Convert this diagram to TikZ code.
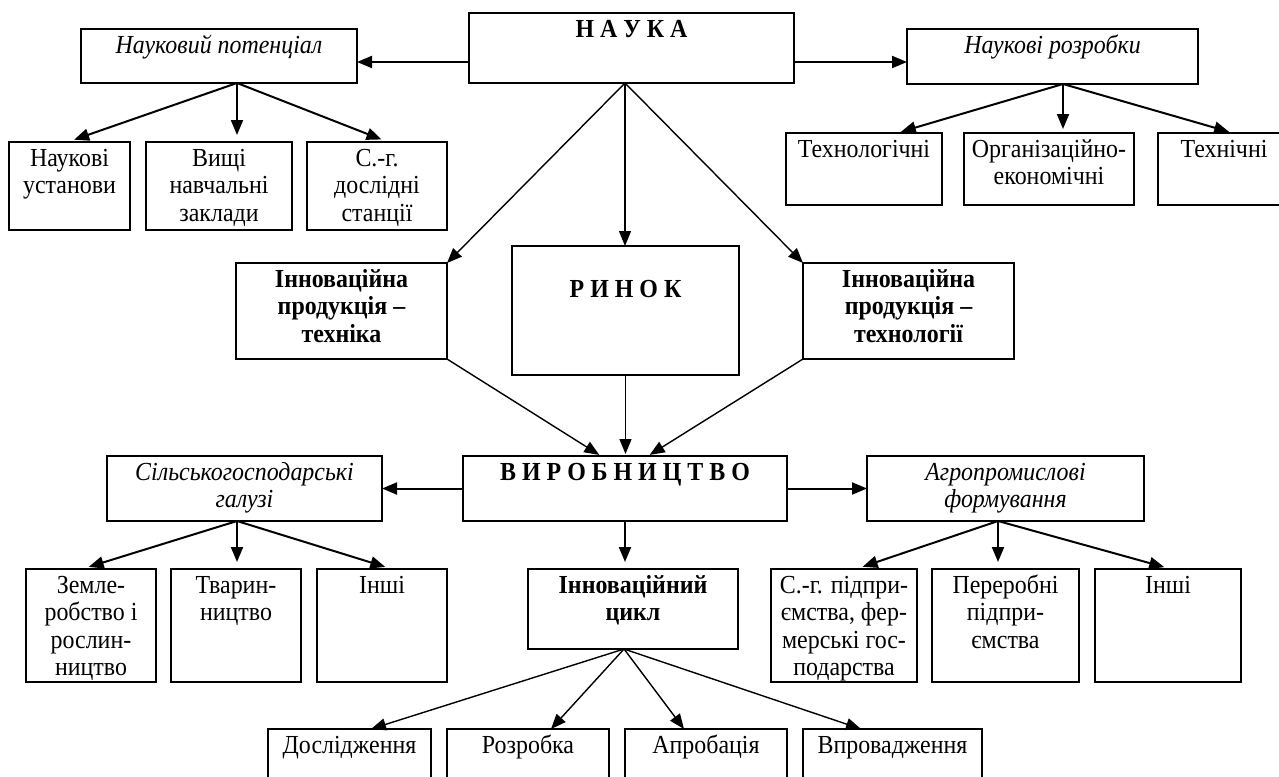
\documentclass[tikz,border=0pt]{standalone}
\usepackage{fontspec}
\setmainfont{Liberation Serif}[FakeStretch=0.92]
\usetikzlibrary{arrows.meta, positioning, calc}

\newcommand{\cellfont}{\fontsize{26}{27.5}\selectfont}

\begin{document}
\begin{tikzpicture}[x=1pt, y=-1pt,
    cell/.style n args={3}{draw, line width=1.9pt, inner sep=0pt, outer sep=0pt,
        anchor=north west,
        execute at begin node={\begin{minipage}[c][#2pt][t]{#1pt}\centering\cellfont#3\vspace{5pt}\strut},
        execute at end node={\end{minipage}}},
    arr/.style={-{Triangle[length=15pt, width=12pt]}, line width=2pt},
    longarr/.style={-{Triangle[length=15pt, width=12pt]}, line width=1.4pt}]

    \useasboundingbox (0,0) rectangle (1279,776);
    \clip (0,0) rectangle (1279,776);

    % Top level
    \node[cell={325}{70}{\bfseries}] (nauka) at (469,13) {Н А У К А};
    \node[cell={276}{54}{\itshape}] (potential) at (81,29) {Науковий потенціал};
    \node[cell={291}{55}{\itshape}] (rozrobky) at (907,29) {Наукові розробки};

    \node[cell={121}{88}{}] (ustanovy) at (9,142) {Наукові\\установи};
    \node[cell={146}{88}{}] (vnz) at (146,142) {Вищі\\навчальні\\заклади};
    \node[cell={140}{88}{}] (stantsii) at (307,142) {С.-г.\\дослідні\\станції};

    \node[cell={156}{72}{}] (tekhnol) at (786,133) {Технологічні};
    \node[cell={170}{72}{}] (orgek) at (964,133) {Організаційно-\\економічні};
    \node[cell={132}{72}{}] (tekhn) at (1158,133) {Технічні};

    % Middle level
    \node[cell={211}{96}{\bfseries}] (prodtech) at (236,263) {Інноваційна\\продукція –\\техніка};
    \node[cell={227}{129}{\bfseries}] (rynok) at (512,246) {\\Р И Н О К};
    \node[cell={211}{96}{\bfseries}] (prodtechnol) at (803,263) {Інноваційна\\продукція –\\технології};

    % Production
    \node[cell={324}{65}{\bfseries}] (vyrob) at (463,456) {В И Р О Б Н И Ц Т В О};
    \node[cell={275}{65}{\itshape}] (silgosp) at (107,456) {Сільськогосподарські\\галузі};
    \node[cell={277}{65}{\itshape}] (agroprom) at (867,456) {Агропромислові\\формування};

    \node[cell={130}{113}{}] (zemle) at (26,569) {Земле-\\робство і\\рослин-\\ництво};
    \node[cell={130}{113}{}] (tvaryn) at (171,569) {Тварин-\\ництво};
    \node[cell={130}{113}{}] (inshileft) at (317,569) {Інші};

    \node[cell={210}{80}{\bfseries}] (tsykl) at (528,569) {Інноваційний\\цикл};

    \node[cell={146}{113}{}] (pidpr) at (771,569) {С.-г. підпри-\\ємства, фер-\\мерські гос-\\подарства};
    \node[cell={147}{113}{}] (pererob) at (932,569) {Переробні\\підпри-\\ємства};
    \node[cell={146}{113}{}] (inshiright) at (1095,569) {Інші};

    % Innovation cycle stages
    \node[cell={163}{70}{}] (doslid) at (268,729) {Дослідження};
    \node[cell={162}{70}{}] (rozrob) at (447,729) {Розробка};
    \node[cell={162}{70}{}] (aprob) at (625,729) {Апробація};
    \node[cell={179}{70}{}] (vprov) at (803,729) {Впровадження};

    % Fork points
    \coordinate (nfork) at ([xshift=-6.5pt]nauka.south);
    \coordinate (pfork) at ([xshift=18pt]potential.south);
    \coordinate (rfork) at ([xshift=10.5pt]rozrobky.south);
    \coordinate (sfork) at ([xshift=-7.5pt]silgosp.south);
    \coordinate (afork) at ([xshift=-7.5pt]agroprom.south);
    \coordinate (tfork) at ([xshift=-9pt]tsykl.south);

    % Arrows from science
    \draw[arr] ([yshift=-14pt]nauka.west) -- ([yshift=-14pt]nauka.west -| potential.east);
    \draw[arr] ([yshift=-14pt]nauka.east) -- ([yshift=-14pt]nauka.east -| rozrobky.west);

    \draw[arr, shorten >=7pt] (pfork) -- ([xshift=-2pt]ustanovy.north);
    \draw[arr, shorten >=7pt] (pfork) -- (pfork |- vnz.north);
    \draw[arr, shorten >=7pt] (pfork) -- ([xshift=11pt]stantsii.north);

    \draw[arr, shorten >=4pt] (rfork) -- ([xshift=33pt]tekhnol.north);
    \draw[arr, shorten >=4pt] (rfork) -- (rfork |- orgek.north);
    \draw[arr, shorten >=4pt] (rfork) -- ([xshift=9pt]tekhn.north);

    \draw[longarr] (nfork) -- (prodtech.north east);
    \draw[longarr] (nfork) -- (nfork |- rynok.north);
    \draw[longarr] (nfork) -- (prodtechnol.north west);

    % Into production
    \draw[longarr, shorten >=2pt] (prodtech.south east) -- ([xshift=-24pt]vyrob.north);
    \draw[longarr, shorten >=2pt] (rynok.south) -- (rynok.south |- vyrob.north);
    \draw[longarr, shorten >=2pt] (prodtechnol.south west) -- ([xshift=23pt]vyrob.north);

    % From production
    \draw[arr] (vyrob.west) -- (silgosp.east);
    \draw[arr] (vyrob.east) -- (agroprom.west);
    \draw[arr, shorten >=7pt] (vyrob.south) -- (vyrob.south |- tsykl.north);

    \draw[arr, shorten >=7pt] (sfork) -- ([xshift=-9pt]zemle.north);
    \draw[arr, shorten >=7pt] (sfork) -- (sfork |- tvaryn.north);
    \draw[arr, shorten >=7pt] (sfork) -- ([xshift=10pt]inshileft.north);

    \draw[arr, shorten >=7pt] (afork) -- ([xshift=12pt]pidpr.north);
    \draw[arr, shorten >=7pt] (afork) -- (afork |- pererob.north);
    \draw[arr, shorten >=7pt] (afork) -- ([xshift=3pt]inshiright.north);

    % Cycle stages
    \draw[longarr] (tfork) -- ([xshift=21.5pt]doslid.north);
    \draw[longarr] (tfork) -- ([xshift=23pt]rozrob.north);
    \draw[longarr] (tfork) -- ([xshift=-22pt]aprob.north);
    \draw[longarr] (tfork) -- ([xshift=-31.5pt]vprov.north);
\end{tikzpicture}
\end{document}
